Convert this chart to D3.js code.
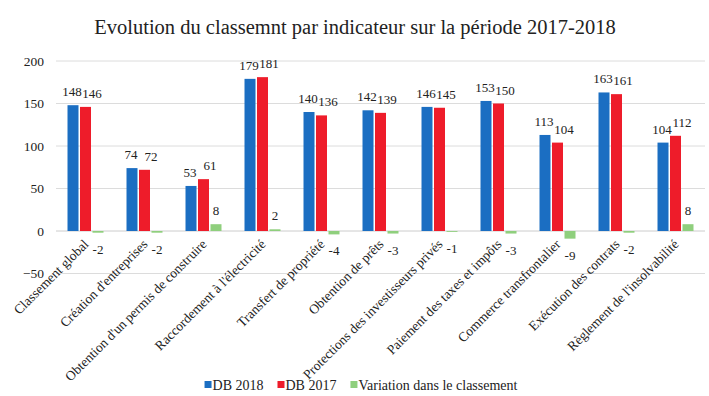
<!DOCTYPE html>
<html>
<head>
<meta charset="utf-8">
<script src="https://cdn.jsdelivr.net/npm/d3@7"></script>
<style>
  body { margin: 0; background: #fff; }
</style>
</head>
<body>
<svg id="chart" width="709" height="396"></svg>
<script>
// données
const categories = [
  "Classement global", "Création d'entreprises", "Obtention d'un permis de construire",
  "Raccordement à l'électricité", "Transfert de propriété", "Obtention de prêts",
  "Protections des investisseurs privés", "Paiement des taxes et impôts",
  "Commerce transfrontalier", "Exécution des contrats", "Règlement de l'insolvabilité"
];
const db2018 = [148, 74, 53, 179, 140, 142, 146, 153, 113, 163, 104];
const db2017 = [146, 72, 61, 181, 136, 139, 145, 150, 104, 161, 112];
const variation = [-2, -2, 8, 2, -4, -3, -1, -3, -9, -2, 8];
const seriesNames = ["DB 2018", "DB 2017", "Variation dans le classement"];
const yTicks = [-50, 0, 50, 100, 150, 200];

const colors = ["#1b6ec2", "#ee1c2a", "#8fcf7d"];
const seriesValues = [db2018, db2017, variation];
const FONT = "Liberation Serif";

const svg = d3.select("#chart");
const plotL = 56, plotR = 705, plotT = 61, plotB = 273.5;

const x0 = d3.scaleBand().domain(categories).range([plotL, plotR])
    .paddingInner(0.39).paddingOuter(0.195);
const x1 = d3.scaleBand().domain(seriesNames).range([0, x0.bandwidth()]).paddingInner(0.12);
const y = d3.scaleLinear().domain([-50, 200]).range([plotB, plotT]);

// titre
svg.append("text").attr("x", 355).attr("y", 34).attr("text-anchor", "middle")
   .style("font-family", FONT).style("font-size", "20.5px").attr("fill", "#222")
   .text("Evolution du classemnt par indicateur sur la période 2017-2018");

// grille
svg.append("g").selectAll("line").data(yTicks).join("line")
   .attr("x1", plotL).attr("x2", plotR)
   .attr("y1", d => y(d)).attr("y2", d => y(d))
   .attr("stroke", d => d === 0 ? "#cccccc" : "#dcdcdc").attr("stroke-width", 1);

// axe y
const yAxis = svg.append("g").attr("transform", `translate(44,0)`)
   .call(d3.axisLeft(y).tickValues(yTicks).tickSize(0).tickPadding(0));
yAxis.select(".domain").remove();
yAxis.selectAll("text").style("font-size", "13.5px").style("font-family", FONT).attr("fill", "#222");

// barres
const groups = svg.append("g").selectAll("g").data(categories).join("g")
   .attr("transform", d => `translate(${x0(d)},0)`);

const cells = groups.selectAll("g").data((c, i) => seriesNames.map((s, j) => ({ s, j, v: seriesValues[j][i] })))
   .join("g");

cells.append("rect")
   .attr("x", d => x1(d.s)).attr("width", x1.bandwidth())
   .attr("y", d => y(Math.max(0, d.v)))
   .attr("height", d => Math.abs(y(d.v) - y(0)))
   .attr("fill", d => colors[d.j]);

// étiquettes de valeurs (rouge décalée à droite comme dans l'original)
const labelShift = [-1, 6.5, 0];
cells.append("text")
   .attr("x", d => x1(d.s) + x1.bandwidth() / 2 + labelShift[d.j])
   .attr("y", d => d.v >= 0 ? y(d.v) - 9 : y(d.v) + 21)
   .attr("text-anchor", "middle")
   .style("font-family", FONT).style("font-size", "13px").attr("fill", "#222")
   .text(d => d.v);

// libellés des catégories
svg.append("g").selectAll("text").data(categories).join("text")
   .attr("transform", d => `translate(${x0(d) + x0.bandwidth() / 2 + 4},${y(0) + 14}) rotate(-45)`)
   .attr("text-anchor", "end")
   .style("font-family", FONT).style("font-size", "13.5px").attr("fill", "#222")
   .text(d => d);

// légende
const legend = svg.append("g");
let lx = 0;
seriesNames.forEach((s, j) => {
  const item = legend.append("g").attr("transform", `translate(${lx},0)`);
  item.append("rect").attr("x", 0).attr("y", -9).attr("width", 7).attr("height", 7).attr("fill", colors[j]);
  const t = item.append("text").attr("x", 8).attr("y", 0)
     .style("font-family", FONT).style("font-size", "14px").attr("fill", "#222").text(s);
  lx += 8 + t.node().getComputedTextLength() + 14;
});
const lw = lx - 14;
legend.attr("transform", `translate(${361 - lw / 2},390)`);
</script>
</body>
</html>
